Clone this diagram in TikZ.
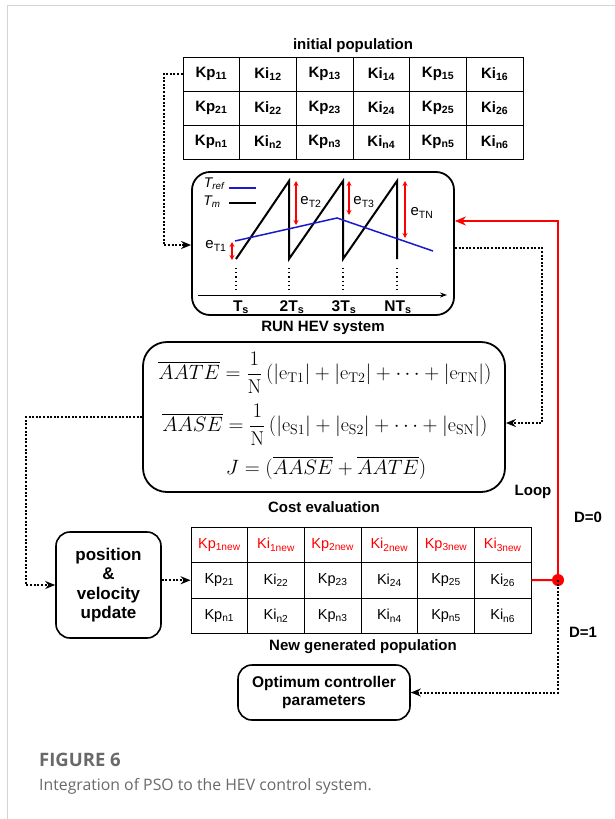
\documentclass[tikz,border=0pt]{standalone}
\usepackage{amsmath}
\usepackage{fontspec}
\setsansfont{Liberation Sans}
\newfontfamily\capfont{Open Sans}
\usetikzlibrary{arrows.meta,positioning}
\definecolor{capgray}{RGB}{105,105,105}
\definecolor{framegray}{RGB}{212,212,212}
\definecolor{plotblue}{RGB}{25,25,205}

\begin{document}
\begin{tikzpicture}[x=1pt,y=-1pt,
    cell/.style={draw, line width=0.8pt, minimum width=56.7pt, minimum height=34pt, inner sep=0pt, font=\sffamily\fontsize{14.5}{16}\selectfont},
    lbl/.style={font=\sffamily\bfseries\fontsize{15}{17}\selectfont},
    rbox/.style={draw, line width=1.6pt, rounded corners=14pt, align=center, inner sep=0pt, font=\sffamily\bfseries\fontsize{15.5}{18}\selectfont},
    eqline/.style={font=\fontsize{20}{24}\selectfont, inner sep=0pt},
    dots/.style={line width=2pt, dash pattern=on 2pt off 1.6pt},
    tip/.style={-{Stealth[length=10pt,width=8pt]}},
    redl/.style={line width=2pt, color=red},
    redarr/.style={red, line width=1.4pt, {Stealth[length=5pt,width=5pt]}-{Stealth[length=5pt,width=5pt]}}]
    %%%%% START %%%%%
    \useasboundingbox (0,0) rectangle (615,819);
    \draw[framegray, line width=1pt] (7,819) -- (7,5) -- (615,5);
    
    % initial population
    \node[lbl] (inilbl) at (353,46) {initial population};
    \foreach \r/\s in {1/1,2/2,3/n}
        \foreach \c in {1,...,6}
            \node[cell, font=\sffamily\bfseries\fontsize{15}{16}\selectfont] (ini-\r-\c) at ({183+56.67*(\c-0.5)},{57+34*(\r-0.5)}) {\ifodd\c Kp\else Ki\fi\textsubscript{\s\c}};
    
    % HEV system
    \node[rbox, minimum width=262pt, minimum height=143pt, rounded corners=18pt, line width=1.8pt] (hev) at (323,243.5) {};
    \node[lbl, below=2pt of hev] (hevlbl) {RUN HEV system};
    
    \draw[line width=0.9pt, -{Stealth[length=7pt,width=5pt]}] (198,295) -- (447,295);
    \draw[line width=2pt, line join=miter] (236,259) -- (289,181) -- (289,259) -- (343,181) -- (343,259) -- (397,181) -- (397,259);
    \draw[plotblue, line width=1.5pt] (235,241) -- (337,218) -- (433,251);
    \foreach \x in {236,289,343,397}
        \draw[line width=1.2pt, dash pattern=on 1.2pt off 3pt] (\x,268) -- (\x,292);
    \node[font=\sffamily\bfseries\fontsize{15.5}{17}\selectfont] at (241,307) {T\textsubscript{s}};
    \node[font=\sffamily\bfseries\fontsize{15.5}{17}\selectfont] at (292,307) {2T\textsubscript{s}};
    \node[font=\sffamily\bfseries\fontsize{15.5}{17}\selectfont] at (344,307) {3T\textsubscript{s}};
    \node[font=\sffamily\bfseries\fontsize{15.5}{17}\selectfont] at (398,307) {NT\textsubscript{s}};
    
    \node[font=\sffamily\itshape\fontsize{14}{16}\selectfont] at (214,184) {T\textsubscript{ref}};
    \draw[plotblue, line width=1.5pt] (229,188) -- (256,188);
    \node[font=\sffamily\itshape\fontsize{14}{16}\selectfont] at (212,202) {T\textsubscript{m}};
    \draw[line width=1.5pt] (229,203) -- (256,203);
    
    \draw[redarr] (232,242) -- (232,260);
    \draw[redarr] (296,181) -- (296,225);
    \draw[redarr] (349,181) -- (349,215);
    \draw[redarr] (405,181) -- (405,238);
    \node[font=\sffamily\fontsize{15}{17}\selectfont] at (216,246) {e\textsubscript{T1}};
    \node[font=\sffamily\fontsize{15}{17}\selectfont] at (311,202) {e\textsubscript{T2}};
    \node[font=\sffamily\fontsize{15}{17}\selectfont] at (364,202) {e\textsubscript{T3}};
    \node[font=\sffamily\fontsize{15}{17}\selectfont] at (422,213) {e\textsubscript{TN}};
    
    % cost evaluation
    \node[rbox, minimum width=362pt, minimum height=150pt, rounded corners=24pt, line width=1.8pt] (eq) at (324,417) {};
    \node[eqline] (aate) at (325,373) {$\overline{AATE} = \dfrac{1}{\mathrm{N}}\,(|\mathrm{e}_{\mathrm{T1}}| + |\mathrm{e}_{\mathrm{T2}}| + \cdots + |\mathrm{e}_{\mathrm{TN}}|)$};
    \node[eqline] (aase) at (325,425) {$\overline{AASE} = \dfrac{1}{\mathrm{N}}\,(|\mathrm{e}_{\mathrm{S1}}| + |\mathrm{e}_{\mathrm{S2}}| + \cdots + |\mathrm{e}_{\mathrm{SN}}|)$};
    \node[eqline] (cost) at (326,468) {$J = (\overline{AASE} + \overline{AATE})$};
    \node[lbl, below=5pt of eq] (eqlbl) {Cost evaluation};
    
    % update and new population
    \node[rbox, minimum width=105pt, minimum height=106pt, font=\sffamily\bfseries\fontsize{17}{19.5}\selectfont] (pos) at (108.5,585) {position\\\&\\velocity\\update};
    \foreach \c [evaluate=\c as \k using int((\c+1)/2)] in {1,...,6}
        \node[cell, minimum height=35.5pt, text=red] (new-1-\c) at ({191+56.67*(\c-0.5)},544.75) {\ifodd\c Kp\else Ki\fi\textsubscript{\k new}};
    \foreach \r/\s in {2/2,3/n}
        \foreach \c in {1,...,6}
            \node[cell, minimum height=35.5pt] (new-\r-\c) at ({191+56.67*(\c-0.5)},{527+35.5*(\r-0.5)}) {\ifodd\c Kp\else Ki\fi\textsubscript{\s\c}};
    \node[lbl] (newlbl) at (363,647) {New generated population};
    
    \node[rbox, minimum width=172pt, minimum height=55pt] (opt) at (324,692.5) {Optimum controller\\parameters};
    
    % connectors
    \draw[dots, tip] (ini-1-1.west) -- ++(-19,0) |- ([yshift=-1.5pt]hev.west);
    \draw[dots, tip] ([yshift=-4.5pt]hev.east) -- ++(87,0) |- ([yshift=-6pt]eq.east);
    \draw[dots, tip] (eq.west) -- ++(-116,0) |- (pos.west);
    \draw[dots, tip] (pos.east |- new-2-1.west) -- (new-2-1.west);
    
    \coordinate (dec) at (558,580);
    \coordinate (rtop) at (558,221);
    \draw[redl] (new-2-6.east) -- (dec);
    \draw[redl, -{Stealth[length=11pt,width=9pt]}] (dec) -- (rtop) -- (rtop -| hev.east);
    \fill[red] (dec) circle (6);
    \draw[dots, tip] (dec) -- (dec |- opt.east) -- (opt.east);
    
    \node[lbl] (loop) at (533,492) {Loop};
    \node[lbl] (dzero) at (588,517) {D=0};
    \node[lbl] (done) at (583,632) {D=1};
    
    % caption
    \node[anchor=west, text=capgray, font=\capfont\bfseries\fontsize{18.5}{22}\selectfont, inner sep=0pt] (fig) at (39,760) {FIGURE 6};
    \node[anchor=west, text=capgray, font=\capfont\fontsize{15.8}{20}\selectfont, inner sep=0pt] (capt) at (39,786) {Integration of PSO to the HEV control system.};
    %%%%% END %%%%%
\end{tikzpicture}
\end{document}
